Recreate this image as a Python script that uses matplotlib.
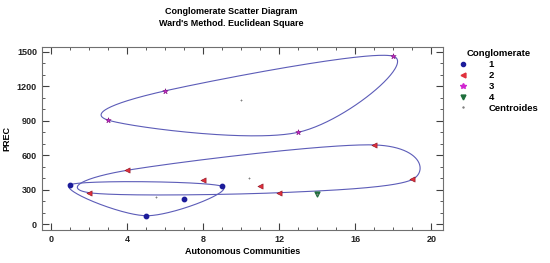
import numpy as np
import matplotlib.pyplot as plt
from matplotlib.lines import Line2D

plt.rcParams['font.family'] = ['Liberation Sans', 'DejaVu Sans']

# Conglomerados (comunidades autonomas vs PREC)
c1_x = [1, 5, 7, 9]
c1_y = [345, 75, 220, 330]
c2_x = [2, 4, 8, 11, 12, 17, 19]
c2_y = [275, 470, 385, 335, 275, 690, 390]
c3_x = [3, 6, 13, 18]
c3_y = [905, 1160, 800, 1460]
c4_x = [14]
c4_y = [265]
cent_x = [5.5, 10.4, 10.0, 14]
cent_y = [242, 403, 1081, 265]

x_ticks = [0, 4, 8, 12, 16, 20]
y_ticks = [0, 300, 600, 900, 1200, 1500]


def hull(xs, ys):
    pts = sorted(set(zip(xs, ys)))
    if len(pts) < 3:
        return pts
    def cross(o, a, b):
        return (a[0]-o[0])*(b[1]-o[1]) - (a[1]-o[1])*(b[0]-o[0])
    lower, upper = [], []
    for p in pts:
        while len(lower) >= 2 and cross(lower[-2], lower[-1], p) <= 0:
            lower.pop()
        lower.append(p)
    for p in reversed(pts):
        while len(upper) >= 2 and cross(upper[-2], upper[-1], p) <= 0:
            upper.pop()
        upper.append(p)
    return lower[:-1] + upper[:-1]


def closed_catmull_rom(pts, n=80):
    P = np.array(pts, dtype=float)
    m = len(P)
    T = (np.roll(P, -1, 0) - np.roll(P, 1, 0)) / 2
    t = np.linspace(0, 1, n)[:, None]
    h00 = 2*t**3 - 3*t**2 + 1
    h10 = t**3 - 2*t**2 + t
    h01 = -2*t**3 + 3*t**2
    h11 = t**3 - t**2
    segs = []
    for i in range(m):
        j = (i + 1) % m
        segs.append(h00*P[i] + h10*T[i] + h01*P[j] + h11*T[j])
    return np.vstack(segs)


fig = plt.figure(figsize=(5.5, 2.63), dpi=100)
ax = fig.add_axes([0.076, 0.125, 0.729, 0.696])

for xs, ys in [(c1_x, c1_y), (c2_x, c2_y), (c3_x, c3_y)]:
    curve = closed_catmull_rom(hull(xs, ys))
    ax.plot(curve[:, 0], curve[:, 1], color='#5c5cb8', lw=0.8, zorder=1)

ax.scatter(c1_x, c1_y, marker='o', s=10, color='#1c1c9a', zorder=3)
ax.scatter(c2_x, c2_y, marker='<', s=14, color='#e0303c', edgecolors='#8a1020', linewidths=0.4, zorder=3)
ax.scatter(c3_x, c3_y, marker='*', s=16, color='#d026d0', edgecolors='#7a107a', linewidths=0.4, zorder=3)
ax.scatter(c4_x, c4_y, marker='v', s=12, color='#1e6e3c', zorder=3)
ax.scatter(cent_x, cent_y, marker='+', s=4, color='#808080', linewidths=0.6, zorder=3)

ax.set_xlim(-0.5, 20.6)
ax.set_ylim(-50, 1540)
ax.set_xticks(x_ticks)
ax.set_yticks(y_ticks)
ax.set_xticks(np.arange(0, 21, 1), minor=True)
ax.set_yticks(np.arange(0, 1501, 100), minor=True)
ax.tick_params(which='both', direction='in', top=True, right=True, labelsize=6.5, colors='#404040')
ax.tick_params(which='major', length=5, width=0.8)
ax.tick_params(which='minor', length=2.5, width=0.6)
for lab in ax.get_xticklabels() + ax.get_yticklabels():
    lab.set_fontweight('bold')
    lab.set_color('#222222')
for sp in ax.spines.values():
    sp.set_color('#707070')
    sp.set_linewidth(0.8)

ax.set_xlabel('Autonomous Communities', fontsize=6.5, fontweight='bold', labelpad=2)
ax.set_ylabel('PREC', fontsize=6.5, fontweight='bold', labelpad=4)

fig.text(0.42, 0.955, 'Conglomerate Scatter Diagram', ha='center', va='center', fontsize=6.5, fontweight='bold')
fig.text(0.42, 0.91, "Ward's Method. Euclidean Square", ha='center', va='center', fontsize=6.5, fontweight='bold')

handles = [
    Line2D([], [], ls='', marker='o', ms=3, color='#1c1c9a'),
    Line2D([], [], ls='', marker='<', ms=3.5, color='#e0303c'),
    Line2D([], [], ls='', marker='*', ms=4, color='#d026d0'),
    Line2D([], [], ls='', marker='v', ms=3.5, color='#1e6e3c'),
    Line2D([], [], ls='', marker='+', ms=2, color='#808080'),
]
labels = ['1', '2', '3', '4', 'Centroides']
leg = fig.legend(handles, labels, title='Conglomerate', loc='upper left',
                 bbox_to_anchor=(0.818, 0.845), frameon=False, fontsize=6.8,
                 title_fontproperties={'weight': 'bold', 'size': 6.8},
                 handlelength=1, handletextpad=2.2, labelspacing=0.2)
for t in leg.get_texts():
    t.set_fontweight('bold')

fig.savefig('out.png', dpi=100)
